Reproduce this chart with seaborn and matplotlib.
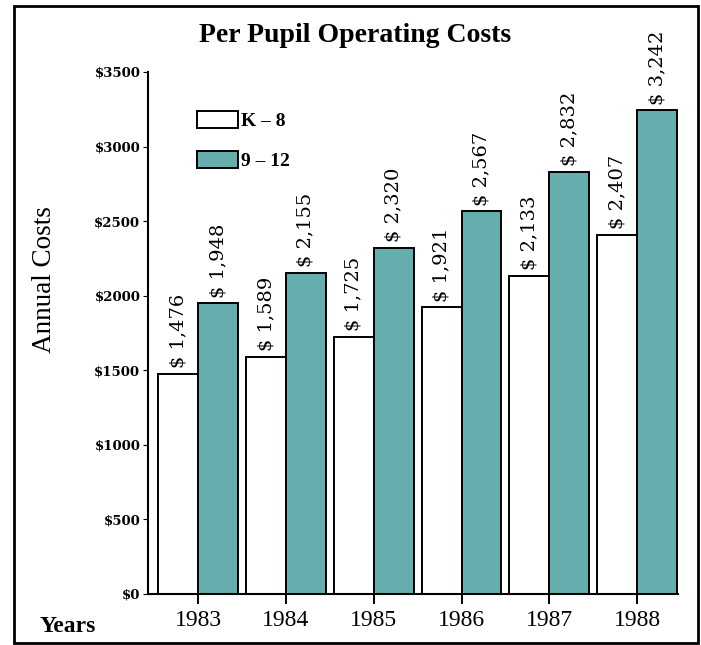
import matplotlib
matplotlib.use("Agg")
import matplotlib.pyplot as plt
import matplotlib.patches as mpatches
import seaborn as sns
import pandas as pd

years = ["1983", "1984", "1985", "1986", "1987", "1988"]
k8_costs = [1476, 1589, 1725, 1921, 2133, 2407]
hs_costs = [1948, 2155, 2320, 2567, 2832, 3242]
groups = ["K – 8", "9 – 12"]
y_ticks = [0, 500, 1000, 1500, 2000, 2500, 3000, 3500]
y_tick_labels = ["$0", "$500", "$1000", "$1500", "$2000", "$2500", "$3000", "$3500"]

df = pd.DataFrame({
    "Year": years * 2,
    "Cost": k8_costs + hs_costs,
    "Grade": [groups[0]] * len(years) + [groups[1]] * len(years),
})

sns.set_theme(style="white")
plt.rcParams["font.family"] = ["Liberation Serif", "DejaVu Serif"]
plt.rcParams["text.color"] = "black"
plt.rcParams["axes.labelcolor"] = "black"
plt.rcParams["xtick.color"] = "black"
plt.rcParams["ytick.color"] = "black"

W, H = 701, 645
fig = plt.figure(figsize=(W / 100, H / 100), dpi=100)
ax_left, ax_right, ax_bottom, ax_top = 148, 678, 594, 72
ax = fig.add_axes([ax_left / W, 1 - ax_bottom / H, (ax_right - ax_left) / W, (ax_bottom - ax_top) / H])

teal = "#64aeae"
sns.barplot(data=df, x="Year", y="Cost", hue="Grade", order=years, hue_order=groups,
            palette=["white", teal], edgecolor="black", linewidth=1.4,
            width=0.91, gap=0, ax=ax, saturation=1)

ax.set_xlim(-0.57, 5.465)
ax.set_ylim(0, 3500)
ax.set_yticks(y_ticks)
ax.set_yticklabels(y_tick_labels, fontfamily="DejaVu Serif", fontweight="bold", fontsize=9.5)
for lab in ax.get_xticklabels():
    lab.set_fontsize(17)
    lab.set_fontfamily("Liberation Serif")

for s in ["top", "right"]:
    ax.spines[s].set_visible(False)
for s in ["left", "bottom"]:
    ax.spines[s].set_color("black")
    ax.spines[s].set_linewidth(1.5)

ax.tick_params(axis="x", direction="out", length=7.5, width=1.4, color="black", pad=4, bottom=True)
ax.tick_params(axis="y", direction="out", length=3.5, width=0.8, color="black", pad=2, left=True)

ax.set_xlabel("")
ax.set_ylabel("Annual Costs", fontsize=19.5, fontfamily="Liberation Serif", color="black")
ax.yaxis.set_label_coords(-0.172, 0.603)

for cont, vals in zip(ax.containers, [k8_costs, hs_costs]):
    ax.bar_label(cont, labels=[f"$ {v:,}" for v in vals], rotation=90, padding=4,
                 fontsize=14, fontfamily="DejaVu Serif", color="black", clip_on=False)

handles, _ = ax.get_legend_handles_labels()
leg = ax.legend(handles, groups, loc="upper left", bbox_to_anchor=(197 / W, 1 - 111 / H),
                bbox_transform=fig.transFigure, frameon=False, borderaxespad=0, borderpad=0,
                handlelength=2.1, handleheight=1.0, handletextpad=0.15, labelspacing=1.05,
                prop={"family": "Liberation Serif", "weight": "bold", "size": 14})
for t in leg.get_texts():
    t.set_color("black")

fig.text(355 / W, 1 - 35 / H, "Per Pupil Operating Costs", ha="center", va="center",
         fontsize=20, fontweight="bold", fontfamily="Liberation Serif", color="black")
fig.text(40 / W, 1 - 626 / H, "Years", ha="left", va="center",
         fontsize=17, fontweight="bold", fontfamily="Liberation Serif", color="black")

border = mpatches.Rectangle((14 / W, 1 - 643 / H), (698 - 14) / W, (643 - 6) / H,
                            transform=fig.transFigure, fill=False, edgecolor="black",
                            linewidth=2, zorder=10)
fig.patches.append(border)

fig.savefig("out.png", dpi=100)
